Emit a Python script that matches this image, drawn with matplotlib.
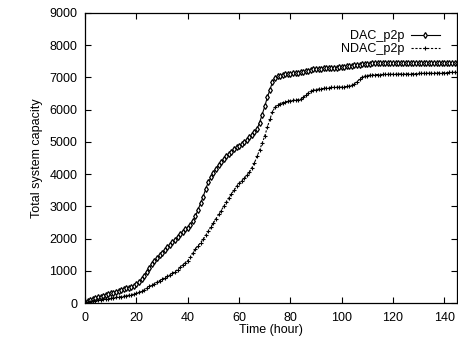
import numpy as np
import matplotlib
matplotlib.use("Agg")
import matplotlib.pyplot as plt

matplotlib.rcParams["font.family"] = "Liberation Sans"
matplotlib.rcParams["font.size"] = 9

hours = np.arange(0, 146)

dac = [30, 60, 90, 120, 150, 180, 205, 230, 255, 280,
       305, 330, 355, 380, 405, 430, 455, 480, 505, 530,
       580, 650, 740, 850, 970, 1100, 1200, 1300, 1390, 1480,
       1570, 1650, 1730, 1810, 1890, 1970, 2060, 2150, 2220, 2290,
       2340, 2420, 2550, 2700, 2900, 3100, 3300, 3550, 3750, 3900,
       4050, 4170, 4280, 4380, 4470, 4550, 4620, 4700, 4770, 4830,
       4880, 4930, 4990, 5060, 5140, 5220, 5300, 5400, 5600, 5850,
       6100, 6380, 6620, 6850, 6980, 7030, 7060, 7080, 7100, 7110,
       7120, 7130, 7140, 7150, 7160, 7170, 7190, 7210, 7230, 7250,
       7260, 7270, 7270, 7280, 7290, 7300, 7300, 7300, 7300, 7310,
       7320, 7330, 7340, 7350, 7370, 7380, 7390, 7400, 7410, 7420,
       7430, 7430, 7435, 7435, 7440, 7440, 7440, 7445, 7445, 7445,
       7450, 7450, 7450, 7450, 7450, 7450, 7455, 7455, 7455, 7455,
       7455, 7455, 7455, 7460, 7460, 7460, 7460, 7460, 7460, 7460,
       7460, 7460, 7460, 7460, 7460, 7460]

ndac = [20, 30, 45, 60, 75, 90, 105, 120, 130, 140,
        150, 165, 180, 190, 200, 215, 230, 245, 265, 285,
        305, 335, 370, 410, 460, 520, 560, 600, 650, 700,
        740, 790, 830, 870, 920, 980, 1040, 1110, 1180, 1250,
        1320, 1420, 1560, 1680, 1780, 1880, 1980, 2100, 2230, 2360,
        2490, 2620, 2750, 2870, 3000, 3130, 3260, 3380, 3500, 3620,
        3720, 3800, 3870, 3960, 4060, 4200, 4350, 4550, 4750, 4960,
        5180, 5450, 5700, 5930, 6080, 6150, 6190, 6220, 6240, 6260,
        6280, 6290, 6300, 6310, 6330, 6380, 6450, 6520, 6570, 6600,
        6620, 6640, 6650, 6660, 6670, 6680, 6690, 6690, 6700, 6700,
        6700, 6710, 6720, 6730, 6760, 6810, 6870, 6940, 7010, 7040,
        7060, 7070, 7080, 7085, 7090, 7090, 7095, 7095, 7100, 7100,
        7100, 7105, 7105, 7110, 7110, 7110, 7115, 7115, 7120, 7120,
        7125, 7125, 7130, 7130, 7135, 7135, 7140, 7140, 7145, 7145,
        7150, 7150, 7155, 7155, 7160, 7160]

fig = plt.figure(figsize=(4.58, 3.41), dpi=100)
ax = fig.add_axes([0.186, 0.111, 0.812, 0.851])

ax.plot(hours, dac, color="black", lw=0.8, marker="d", ms=3,
        mfc="white", mec="black", mew=0.9, label="DAC_p2p")
ax.plot(hours, ndac, color="black", lw=0.8, ls=(0, (2, 1.5)), marker="+",
        ms=3.5, mew=0.8, label="NDAC_p2p")

ax.set_xlim(0, 145)
ax.set_ylim(0, 9000)
ax.set_xticks(range(0, 141, 20))
ax.set_yticks(range(0, 9001, 1000))
ax.tick_params(direction="in", top=True, right=True, length=4, width=0.8)
ax.tick_params(axis="x", pad=6.5)
ax.tick_params(axis="y", pad=5.5)
for s in ax.spines.values():
    s.set_linewidth(0.9)

ax.set_xlabel("Time (hour)", labelpad=0)
ax.set_ylabel("Total system capacity", labelpad=5)

leg = ax.legend(loc="upper right", frameon=False, markerfirst=False,
                handlelength=2.3, handletextpad=0.5, borderaxespad=0.9,
                borderpad=0.5, labelspacing=0.05)

fig.savefig("out.png", dpi=100)
